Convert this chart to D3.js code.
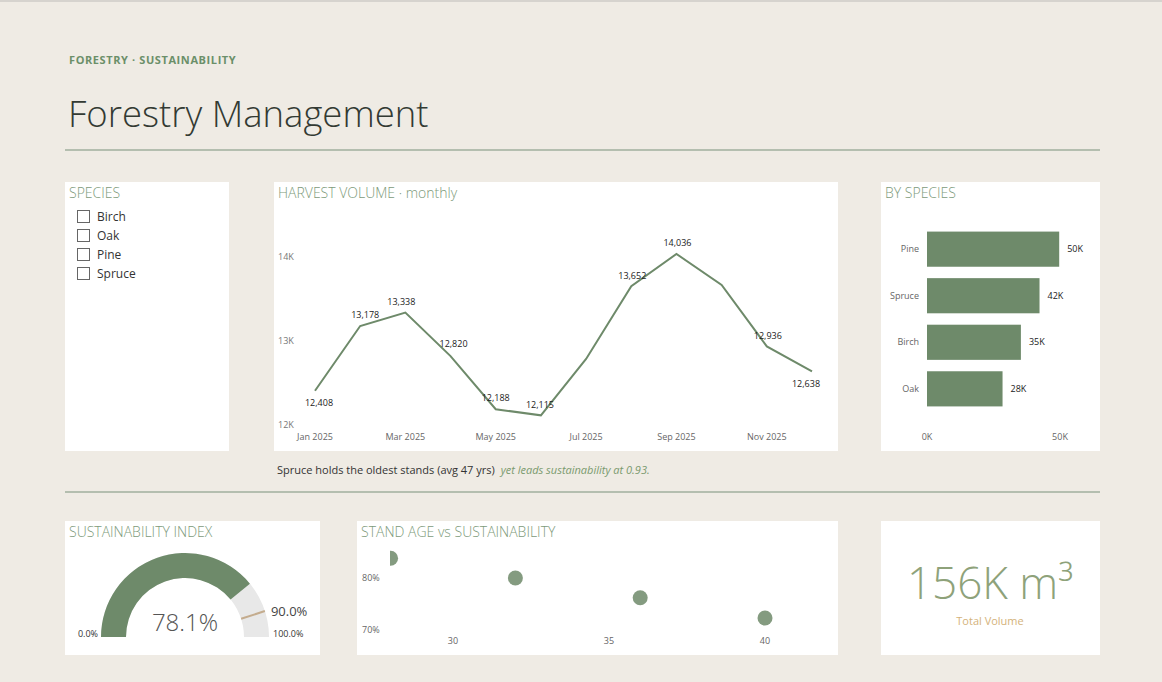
<!DOCTYPE html>
<html><head><meta charset="utf-8">
<script src="https://cdn.jsdelivr.net/npm/d3@7"></script>
<style>
html,body{margin:0;padding:0;background:#efebe4;}
svg{display:block;font-family:"Segoe UI","Open Sans",sans-serif;}
</style></head><body>
<svg id="c" width="1162" height="682"></svg>
<script>
// ---- data ----
const months = ["Jan 2025","Feb 2025","Mar 2025","Apr 2025","May 2025","Jun 2025","Jul 2025","Aug 2025","Sep 2025","Oct 2025","Nov 2025","Dec 2025"];
const harvest = [12408,13178,13338,12820,12188,12115,12786,13652,14036,13667,12936,12638];
const harvestLabelShown = [true,true,true,true,true,true,false,true,true,false,true,true];
const monthTicks = ["Jan 2025","Mar 2025","May 2025","Jul 2025","Sep 2025","Nov 2025"];
const yTicks = [12000,13000,14000];
const speciesList = ["Birch","Oak","Pine","Spruce"];
const barSpecies = ["Pine","Spruce","Birch","Oak"];
const barValues = [49700,42300,35300,28400];
const barTicks = [0,50000];
const gaugeValue = 0.781;
const gaugeTarget = 0.90;
const scatterAge = [28,32,36,40];
const scatterSust = [0.838,0.80,0.762,0.723];
const scatterXTicks = [30,35,40];
const scatterYTicks = [0.70,0.80];
const totalVolume = "156K m³";

const green = "#6e8a6a";
const titleCol = "#7d9a7a";
const svg = d3.select("#c");

// top border
svg.append("rect").attr("x",0).attr("y",0).attr("width",1162).attr("height",2).attr("fill","#d6d3ce");

// header
svg.append("text").attr("x",69).attr("y",64).attr("font-size",11).attr("font-weight",700)
  .attr("fill","#6b8f69").attr("letter-spacing",0.6).text("FORESTRY · SUSTAINABILITY");
svg.append("text").attr("x",68).attr("y",127).attr("font-size",36.5).attr("font-weight",300)
  .attr("fill","#333a33").text("Forestry Management");
svg.append("rect").attr("x",65).attr("y",149.5).attr("width",1035).attr("height",1).attr("fill","#7b917a");
svg.append("rect").attr("x",65).attr("y",491.5).attr("width",1035).attr("height",1).attr("fill","#7b917a");

function panel(x,y,w,h,title){
  svg.append("rect").attr("x",x).attr("y",y).attr("width",w).attr("height",h).attr("fill","#fff");
  if(title) svg.append("text").attr("x",x+4).attr("y",y+16).attr("font-size",14).attr("font-weight",300)
    .attr("fill",titleCol).text(title);
}
panel(65,182,164,269,"SPECIES");
panel(274,182,564,269,"HARVEST VOLUME · monthly");
panel(881,182,219,269,"BY SPECIES");
panel(65,521,255,134,"SUSTAINABILITY INDEX");
panel(357,521,481,134,"STAND AGE vs SUSTAINABILITY");
panel(881,521,219,134,null);

// slicer
const sl = svg.append("g");
speciesList.forEach((s,i)=>{
  const y = 210 + i*19;
  sl.append("rect").attr("x",77.5).attr("y",y+0.5).attr("width",12).attr("height",12)
    .attr("fill","#fff").attr("stroke","#666").attr("stroke-width",1);
  sl.append("text").attr("x",97).attr("y",y+10.5).attr("font-size",12).attr("fill","#333").text(s);
});

// line chart
const x = d3.scalePoint().domain(months).range([315,812]);
const y = d3.scaleLinear().domain([12000,14000]).range([425,257]);
const lc = svg.append("g");
lc.selectAll(".yt").data(yTicks).join("text").attr("x",278).attr("y",d=>y(d)+3)
  .attr("font-size",9).attr("fill","#777").text(d=>d3.format(".0f")(d/1000)+"K");
lc.selectAll(".xt").data(monthTicks).join("text").attr("x",d=>x(d)).attr("y",440)
  .attr("text-anchor","middle").attr("font-size",9).attr("fill","#666").text(d=>d);
const line = d3.line().x((d,i)=>x(months[i])).y(d=>y(d));
lc.append("path").datum(harvest).attr("d",line).attr("fill","none").attr("stroke",green).attr("stroke-width",2);
const labOff = [[4,15],[5,-8],[-4,-8],[3,-9],[0,-8],[-1,-7],[0,0],[1,-7],[1,-8],[0,0],[1,-7],[-6,16]];
harvest.forEach((v,i)=>{
  if(!harvestLabelShown[i]) return;
  lc.append("text").attr("x",x(months[i])+labOff[i][0]).attr("y",y(v)+labOff[i][1])
    .attr("text-anchor","middle").attr("font-size",9).attr("fill","#222").text(d3.format(",")(v));
});

// bar chart
const bx = d3.scaleLinear().domain([0,50000]).range([927,1060]);
const by = d3.scaleBand().domain(barSpecies).range([226,412]).paddingInner(0.245).paddingOuter(0.12);
const bc = svg.append("g");
bc.selectAll("rect.b").data(barSpecies).join("rect").attr("x",bx(0)).attr("y",d=>by(d))
  .attr("width",(d,i)=>bx(barValues[i])-bx(0)).attr("height",by.bandwidth()).attr("fill",green);
bc.selectAll("text.c").data(barSpecies).join("text").attr("x",919).attr("y",d=>by(d)+by.bandwidth()/2+3)
  .attr("text-anchor","end").attr("font-size",9).attr("fill","#666").text(d=>d);
bc.selectAll("text.v").data(barSpecies).join("text").attr("x",(d,i)=>bx(barValues[i])+8)
  .attr("y",d=>by(d)+by.bandwidth()/2+3).attr("font-size",9).attr("fill","#222")
  .text((d,i)=>Math.round(barValues[i]/1000)+"K");
bc.selectAll("text.t").data(barTicks).join("text").attr("x",d=>bx(d)).attr("y",440)
  .attr("text-anchor","middle").attr("font-size",9).attr("fill","#666").text(d=>(d/1000)+"K");

// caption
const cap = svg.append("text").attr("x",277).attr("y",474).attr("font-size",11).attr("fill","#333");
cap.append("tspan").text("Spruce holds the oldest stands (avg 47 yrs) ");
cap.append("tspan").attr("dx",3).attr("font-style","italic").attr("fill","#7a9a6e").text("yet leads sustainability at 0.93.");

// gauge
const gcx=185, gcy=637, ro=84, ri=59;
const ang = d3.scaleLinear().domain([0,1]).range([-Math.PI/2, Math.PI/2]);
const arc = d3.arc().innerRadius(ri).outerRadius(ro);
const g = svg.append("g").attr("transform",`translate(${gcx},${gcy})`);
g.append("path").attr("d",arc({startAngle:ang(0),endAngle:ang(1)})).attr("fill","#e8e8e8");
g.append("path").attr("d",arc({startAngle:ang(0),endAngle:ang(gaugeValue)})).attr("fill",green);
const ta = ang(gaugeTarget);
g.append("line").attr("x1",Math.sin(ta)*ri).attr("y1",-Math.cos(ta)*ri)
  .attr("x2",Math.sin(ta)*ro).attr("y2",-Math.cos(ta)*ro).attr("stroke","#c4ac8e").attr("stroke-width",2);
g.append("text").attr("x",0).attr("y",-6).attr("text-anchor","middle").attr("font-size",24).attr("font-weight",300)
  .attr("fill","#555").text(d3.format(".1%")(gaugeValue));
g.append("text").attr("x",-ro-3).attr("y",0).attr("text-anchor","end").attr("font-size",9).attr("fill","#333").text("0.0%");
g.append("text").attr("x",ro+4).attr("y",0).attr("font-size",9).attr("fill","#333").text("100.0%");
g.append("text").attr("x",Math.sin(ta)*ro+6).attr("y",-Math.cos(ta)*ro+5).attr("font-size",13).attr("fill","#444")
  .text(d3.format(".1%")(gaugeTarget));

// scatter
const sx = d3.scaleLinear().domain([30,40]).range([453,765]);
const sy = d3.scaleLinear().domain([0.70,0.80]).range([630,578]);
svg.append("clipPath").attr("id","sc").append("rect").attr("x",390).attr("y",540).attr("width",440).attr("height",105);
const sc = svg.append("g");
sc.selectAll("text.yt").data(scatterYTicks).join("text").attr("x",362).attr("y",d=>sy(d)+3)
  .attr("font-size",9).attr("fill","#666").text(d=>d3.format(".0%")(d));
sc.selectAll("text.xt").data(scatterXTicks).join("text").attr("x",d=>sx(d)).attr("y",644)
  .attr("text-anchor","middle").attr("font-size",9).attr("fill","#666").text(d=>d);
sc.append("g").attr("clip-path","url(#sc)").selectAll("circle").data(scatterAge).join("circle")
  .attr("cx",d=>sx(d)).attr("cy",(d,i)=>sy(scatterSust[i])).attr("r",7.5).attr("fill",green).attr("fill-opacity",0.85);

// KPI
svg.append("text").attr("x",990).attr("y",599).attr("text-anchor","middle").attr("font-size",44)
  .attr("font-weight",300).attr("fill","#8ea27a").text(totalVolume);
svg.append("text").attr("x",990).attr("y",625).attr("text-anchor","middle").attr("font-size",11)
  .attr("fill","#d4b27a").text("Total Volume");
</script>
</body></html>
